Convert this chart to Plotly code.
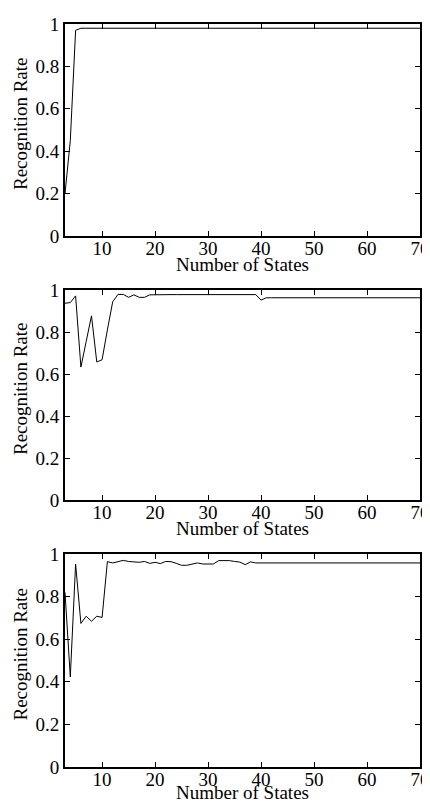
import plotly.graph_objects as go

# Number of states (x categories)
states = [3, 4, 5, 6, 7, 8, 9, 10, 11, 12, 13, 14, 15, 16, 17, 18, 19, 20,
          21, 22, 23, 24, 25, 26, 27, 28, 29, 30, 31, 32, 33, 34, 35, 36, 37, 38,
          39, 40, 41, 42, 43, 44, 45, 46, 47, 48, 49, 50, 51, 52, 53, 54, 55, 56,
          57, 58, 59, 60, 61, 62, 63, 64, 65, 66, 67, 68, 69, 70]

rate_top = [0.20, 0.45, 0.97, 0.98, 0.98, 0.98, 0.98, 0.98, 0.98, 0.98,
            0.98, 0.98, 0.98, 0.98, 0.98, 0.98, 0.98, 0.98, 0.98, 0.98,
            0.98, 0.98, 0.98, 0.98, 0.98, 0.98, 0.98, 0.98, 0.98, 0.98,
            0.98, 0.98, 0.98, 0.98, 0.98, 0.98, 0.98, 0.98, 0.98, 0.98,
            0.98, 0.98, 0.98, 0.98, 0.98, 0.98, 0.98, 0.98, 0.98, 0.98,
            0.98, 0.98, 0.98, 0.98, 0.98, 0.98, 0.98, 0.98, 0.98, 0.98,
            0.98, 0.98, 0.98, 0.98, 0.98, 0.98, 0.98, 0.98]

rate_mid = [0.937, 0.940, 0.972, 0.633, 0.755, 0.877, 0.657, 0.668, 0.810, 0.944,
            0.979, 0.979, 0.965, 0.977, 0.965, 0.965, 0.977, 0.978, 0.978, 0.978,
            0.978, 0.978, 0.978, 0.978, 0.978, 0.978, 0.978, 0.978, 0.978, 0.978,
            0.978, 0.978, 0.978, 0.978, 0.978, 0.978, 0.978, 0.952, 0.963, 0.963,
            0.963, 0.963, 0.963, 0.963, 0.963, 0.963, 0.963, 0.963, 0.963, 0.963,
            0.963, 0.963, 0.963, 0.963, 0.963, 0.963, 0.963, 0.963, 0.963, 0.963,
            0.963, 0.963, 0.963, 0.963, 0.963, 0.963, 0.963, 0.963]

rate_bot = [0.820, 0.423, 0.953, 0.674, 0.708, 0.684, 0.708, 0.702, 0.964, 0.958,
            0.964, 0.970, 0.965, 0.964, 0.961, 0.965, 0.956, 0.961, 0.955, 0.965,
            0.964, 0.956, 0.947, 0.947, 0.953, 0.958, 0.953, 0.953, 0.953, 0.969,
            0.969, 0.969, 0.965, 0.962, 0.950, 0.963, 0.958, 0.958, 0.958, 0.958,
            0.958, 0.958, 0.958, 0.958, 0.958, 0.958, 0.958, 0.958, 0.958, 0.958,
            0.958, 0.958, 0.958, 0.958, 0.958, 0.958, 0.958, 0.958, 0.958, 0.958,
            0.958, 0.958, 0.958, 0.958, 0.958, 0.958, 0.958, 0.958]

x_ticks = [10, 20, 30, 40, 50, 60, 70]
y_ticks = [0, 0.2, 0.4, 0.6, 0.8, 1]
x_title = "Number of States"
y_title = "Recognition Rate"

# The page body has an 8px default margin; the figure is sized so that it
# exactly fills the 430x805 window from that offset.
OFF = 8
W, H = 430 - OFF, 805 - OFF
FONT = "Liberation Serif"


def px_x(p):
    return (p - OFF) / W


def px_y(p):
    return 1 - (p - OFF) / H


# panel window-pixel boxes (top, bottom)
panels = [(24, 236), (290, 500), (554, 767)]
x_left, x_right = 65, 420

fig = go.Figure()
series = [rate_top, rate_mid, rate_bot]
for i, ys in enumerate(series):
    sfx = "" if i == 0 else str(i + 1)
    fig.add_trace(go.Scatter(x=states, y=ys, mode="lines",
                             line=dict(color="black", width=1),
                             xaxis="x" + sfx, yaxis="y" + sfx,
                             showlegend=False, hoverinfo="skip"))

layout = dict(template="none", width=W, height=H,
              margin=dict(l=0, r=0, t=0, b=0, autoexpand=False),
              paper_bgcolor="white", plot_bgcolor="white",
              font=dict(family=FONT, size=19, color="black"))

annotations = []
for i, (top, bot) in enumerate(panels):
    sfx = "" if i == 0 else str(i + 1)
    axis_common = dict(showline=True, linecolor="black", linewidth=2,
                       mirror="ticks", ticks="inside", ticklen=5, tickwidth=1,
                       tickcolor="black", showgrid=False, zeroline=False,
                       automargin=False,
                       tickfont=dict(family=FONT, size=19, color="black"))
    layout["xaxis" + sfx] = dict(axis_common,
                                 domain=[px_x(x_left), px_x(x_right)],
                                 range=[3, 70], tickvals=x_ticks,
                                 ticklabelstandoff=-6,
                                 anchor="y" + sfx)
    layout["yaxis" + sfx] = dict(axis_common,
                                 domain=[px_y(bot), px_y(top)],
                                 range=[0, 1], tickvals=y_ticks,
                                 anchor="x" + sfx)
    title_bottom = min(bot + 41, 805)
    annotations.append(dict(text=x_title, xref="paper", yref="paper",
                            x=px_x((x_left + x_right) / 2), y=px_y(title_bottom),
                            xanchor="center", yanchor="bottom", showarrow=False,
                            font=dict(family=FONT, size=19, color="black")))
    annotations.append(dict(text=y_title, xref="paper", yref="paper",
                            x=px_x(20), y=px_y((top + bot) / 2 - 6),
                            xanchor="center", yanchor="middle", textangle=-90,
                            showarrow=False,
                            font=dict(family=FONT, size=19, color="black")))

layout["annotations"] = annotations
fig.update_layout(**layout)
fig.write_html("out.html")
